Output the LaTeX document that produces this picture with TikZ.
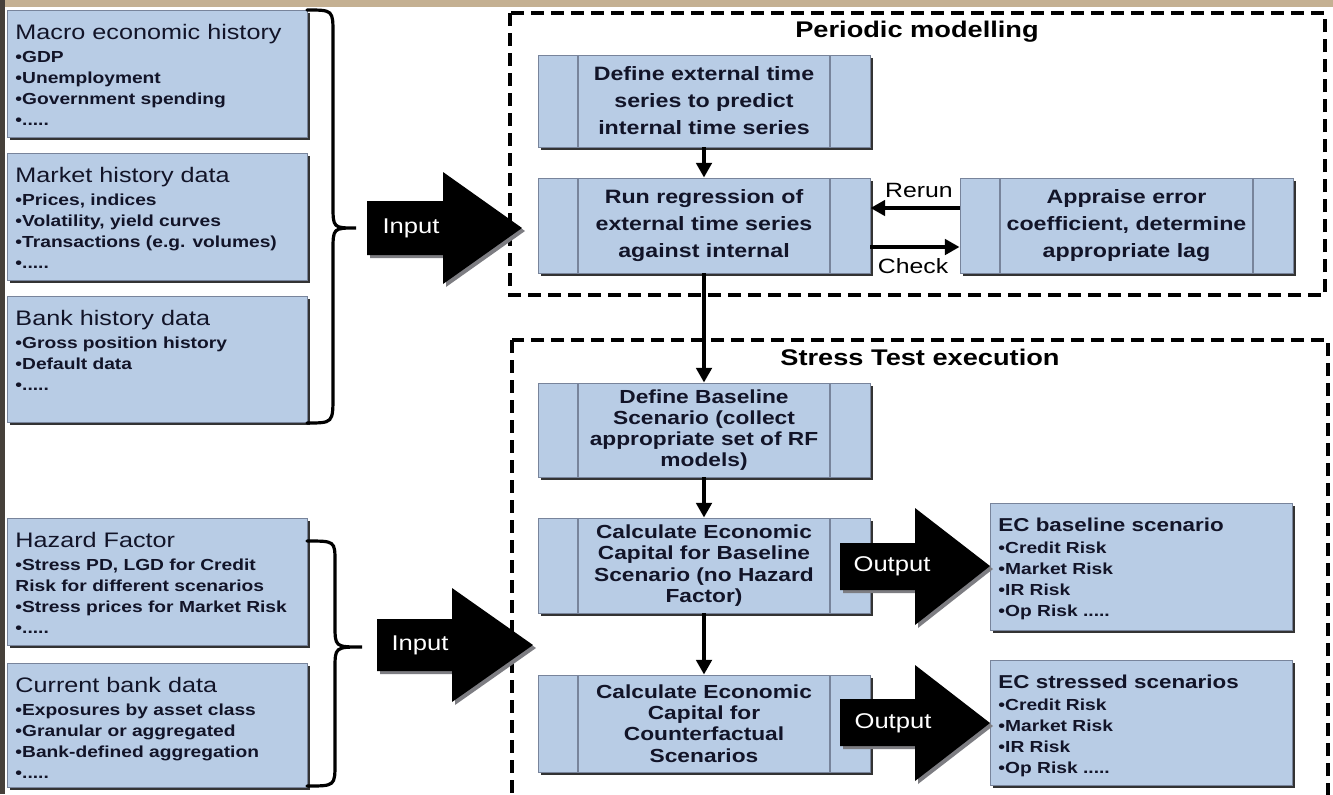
\documentclass[tikz,border=0pt]{standalone}
\usepackage{fontspec}
\setmainfont{Liberation Sans}[FakeStretch=1.2]
\usetikzlibrary{arrows.meta,shadows,calc}
\definecolor{boxfill}{RGB}{184,204,229}
\definecolor{boxline}{RGB}{120,132,155}
\definecolor{txt}{RGB}{18,20,40}
\definecolor{arrowshade}{RGB}{125,125,130}
\definecolor{topband}{RGB}{196,176,146}
\definecolor{leftband}{RGB}{70,64,58}
\newcommand\ttlfont{\fontsize{15.75}{18}\selectfont}
\newcommand\ecttlfont{\bfseries\fontsize{14}{18}\selectfont}
\newcommand\bltfont{\bfseries\fontsize{12}{15.75}\selectfont}
\newcommand\procfontA{\bfseries\fontsize{14.5}{20.25}\selectfont}
\newcommand\procfontB{\bfseries\fontsize{14.2}{15.9}\selectfont}
\newcommand\headfont{\bfseries\fontsize{17}{20}\selectfont}
\newcommand\arrowfont{\fontsize{16}{18}\selectfont}
\newcommand\lblfont{\fontsize{15.5}{18}\selectfont}
% #1 height, #2 width, #3 title (with font), #4 bullets
\newcommand\boxcontent[4]{\parbox[c][#1][t]{#2}{\parskip=0pt\vspace*{10.5pt}{#3\par}\vspace{1.2pt}{\bltfont #4\par}}}
\tikzset{
  shade box/.style={drop shadow={shadow xshift=2.2pt,shadow yshift=-2.2pt,fill=black!80,opacity=1}},
  infobox/.style={shade box, rectangle, fill=boxfill, draw=boxline, line width=0.7pt,
    inner xsep=6pt, inner ysep=0pt, anchor=north west, text=txt},
  procbox/.style={shade box, rectangle, fill=boxfill, draw=boxline, line width=0.7pt,
    inner sep=0pt, text=txt, align=center, minimum width=249pt,
    path picture={\draw[boxline, line width=0.9pt]
      ([xshift=30pt]path picture bounding box.north west) -- ([xshift=30pt]path picture bounding box.south west)
      ([xshift=-30pt]path picture bounding box.north east) -- ([xshift=-30pt]path picture bounding box.south east);}},
  dashbox/.style={draw=black, line width=2.3pt, dash pattern=on 10pt off 5pt},
  flow/.style={draw=black, line width=3.2pt, -{Triangle[length=11pt,width=11.5pt]}},
  brace/.style={draw=black, line width=2.4pt, line cap=round},
  arrowtext/.style={text=white, font=\arrowfont, inner sep=0pt},
  lbl/.style={text=black, font=\lblfont, inner sep=0pt},
  header/.style={text=black, font=\headfont, inner sep=0pt}
}
\begin{document}
\begin{tikzpicture}[x=0.75pt,y=-0.75pt]
\useasboundingbox (0,0) rectangle (1333,794);
\clip (0,0) rectangle (1333,794);
% background
\fill[white] (0,0) rectangle (1333,794);
\fill[topband] (0,0) rectangle (1333,7);
\fill[leftband] (0,0) rectangle (5,794);

% dashed frames
\draw[dashbox] (510,13) rectangle (1325,295);
\draw[dashbox] (512,340) rectangle (1328,820);
\node[header] (pmtitle) at (917,32) {Periodic modelling};
\node[header] (sttitle) at (920,357) {Stress Test execution};

% left information boxes
\node[infobox] (macro) at (7,10) {\boxcontent{95.25pt}{213pt}{\ttlfont Macro economic history}{•GDP\\•Unemployment\\•Government spending\\•.....}};
\node[infobox] (market) at (7,153) {\boxcontent{95.25pt}{213pt}{\ttlfont Market history data}{•Prices, indices\\•Volatility, yield curves\\•Transactions (e.g. volumes)\\•.....}};
\node[infobox] (bank) at (7,296) {\boxcontent{94.5pt}{213pt}{\ttlfont Bank history data}{•Gross position history\\•Default data\\•.....}};
\node[infobox] (hazard) at (7,518) {\boxcontent{95.25pt}{213pt}{\ttlfont Hazard Factor}{•Stress PD, LGD for Credit\\Risk for different scenarios\\•Stress prices for Market Risk\\•.....}};
\node[infobox] (current) at (7,663) {\boxcontent{93pt}{213pt}{\ttlfont Current bank data}{•Exposures by asset class\\•Granular or aggregated\\•Bank-defined aggregation\\•.....}};

% braces
\draw[brace] (307,10) .. controls (333,10) .. (333,34) -- (333,205) .. controls (333,228) .. (356,228) .. controls (333,228) .. (333,251) -- (333,395) .. controls (333,423) .. (307,423);
\draw[brace] (307,541) .. controls (335,541) .. (335,562) -- (335,625) .. controls (335,647) .. (362,647) .. controls (335,647) .. (335,669) -- (335,763) .. controls (335,786) .. (307,786);

% process boxes
\node[procbox, minimum height=69pt, font=\procfontA] (p1) at (704,101) {Define external time\\series to predict\\internal time series};
\node[procbox, minimum height=71.25pt, font=\procfontA] (p2) at (704,225.5) {Run regression of\\external time series\\against internal};
\node[procbox, minimum height=71.25pt, minimum width=249.75pt, font=\procfontA] (p3) at (1126.5,225.5) {Appraise error\\coefficient, determine\\appropriate lag};
\node[procbox, minimum height=70.5pt, font=\procfontB] (p4) at (704,430) {Define Baseline\\Scenario (collect\\appropriate set of RF\\models)};
\node[procbox, minimum height=71.25pt, font=\procfontB] (p5) at (704,565.5) {Calculate Economic\\Capital for Baseline\\Scenario (no Hazard\\Factor)};
\node[procbox, minimum height=72.75pt, font=\procfontB] (p6) at (704,723.5) {Calculate Economic\\Capital for\\Counterfactual\\Scenarios};

% result boxes
\node[infobox] (ec1) at (990,503) {\boxcontent{95.25pt}{214.5pt}{\ecttlfont EC baseline scenario}{•Credit Risk\\•Market Risk\\•IR Risk\\•Op Risk .....}};
\node[infobox] (ec2) at (990,660) {\boxcontent{93.75pt}{214.5pt}{\ecttlfont EC stressed scenarios}{•Credit Risk\\•Market Risk\\•IR Risk\\•Op Risk .....}};

% flow connectors
\draw[flow] (p1) -- (p2);
\draw[flow] (p2) -- (p4);
\draw[flow] (p4) -- (p5);
\draw[flow] (p5) -- (p6);
\draw[flow] ($(p3.west)+(0,-17.5)$) -- ($(p2.east)+(0,-17.5)$);
\draw[flow] ($(p2.east)+(0,21.5)$) -- ($(p3.west)+(0,21.5)$);
\node[lbl] (rerun) at (919,190) {Rerun};
\node[lbl] (check) at (913,266) {Check};

% block arrows: Input 1
\fill[arrowshade] (370,204) -- (446,204) -- (446,175) -- (525,231) -- (446,287) -- (446,258) -- (370,258) -- cycle;
\fill[black] (367,201) -- (443,201) -- (443,172) -- (522,228) -- (443,284) -- (443,255) -- (367,255) -- cycle;
\node[arrowtext] (in1) at (411,228) {Input};
% Input 2
\fill[arrowshade] (380,622) -- (455,622) -- (455,591) -- (536,648) -- (455,705) -- (455,674) -- (380,674) -- cycle;
\fill[black] (377,619) -- (452,619) -- (452,588) -- (533,645) -- (452,702) -- (452,671) -- (377,671) -- cycle;
\node[arrowtext] (in2) at (420,645) {Input};
% Output 1
\fill[arrowshade] (843,546) -- (918,546) -- (918,511) -- (993,569) -- (918,628) -- (918,593) -- (843,593) -- cycle;
\fill[black] (840,543) -- (915,543) -- (915,508) -- (990,566) -- (915,625) -- (915,590) -- (840,590) -- cycle;
\node[arrowtext] (out1) at (892,566) {Output};
% Output 2
\fill[arrowshade] (843,702) -- (918,702) -- (918,668) -- (993,726) -- (918,784) -- (918,749) -- (843,749) -- cycle;
\fill[black] (840,699) -- (915,699) -- (915,665) -- (990,723) -- (915,781) -- (915,746) -- (840,746) -- cycle;
\node[arrowtext] (out2) at (893,723) {Output};
\end{tikzpicture}
\end{document}
